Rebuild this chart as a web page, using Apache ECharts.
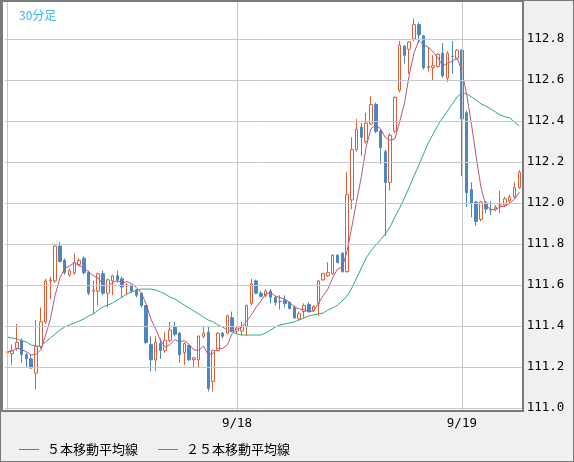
<!DOCTYPE html>
<html><head><meta charset="utf-8">
<script src="https://cdn.jsdelivr.net/npm/echarts@6/dist/echarts.min.js"></script>
<style>html,body{margin:0;padding:0;background:#f0f0f0}#c{width:574px;height:462px}</style>
</head><body><div id="c"></div>
<script>
// [open, close, low, high]
const candles = [
[111.27,111.275,111.20,111.29],[111.265,111.28,111.21,111.31],[111.29,111.32,111.28,111.41],[111.33,111.26,111.22,111.34],
[111.26,111.24,111.20,111.27],[111.24,111.195,111.19,111.26],[111.17,111.30,111.09,111.43],[111.30,111.42,111.29,111.49],
[111.42,111.62,111.41,111.63],[111.62,111.625,111.53,111.64],[111.62,111.79,111.61,111.80],[111.79,111.715,111.71,111.81],
[111.72,111.66,111.65,111.73],[111.65,111.67,111.64,111.68],[111.66,111.71,111.65,111.755],[111.70,111.72,111.69,111.73],
[111.73,111.66,111.65,111.74],[111.66,111.56,111.55,111.67],[111.57,111.575,111.46,111.62],[111.57,111.655,111.50,111.66],
[111.655,111.56,111.55,111.67],[111.56,111.625,111.49,111.63],[111.62,111.645,111.55,111.65],[111.645,111.625,111.61,111.67],
[111.63,111.59,111.54,111.64],[111.595,111.60,111.55,111.61],[111.60,111.57,111.56,111.60],[111.575,111.55,111.54,111.58],
[111.56,111.50,111.49,111.56],[111.50,111.32,111.31,111.50],[111.31,111.235,111.18,111.35],[111.235,111.32,111.18,111.35],
[111.315,111.28,111.24,111.34],[111.28,111.33,111.27,111.37],[111.33,111.38,111.32,111.42],[111.395,111.36,111.35,111.42],
[111.365,111.26,111.22,111.37],[111.27,111.315,111.21,111.32],[111.305,111.235,111.23,111.31],[111.235,111.245,111.20,111.25],
[111.235,111.35,111.20,111.355],[111.35,111.365,111.34,111.40],[111.37,111.095,111.08,111.40],[111.13,111.28,111.08,111.285],
[111.28,111.365,111.275,111.37],[111.365,111.35,111.34,111.37],[111.365,111.45,111.36,111.455],[111.44,111.375,111.37,111.47],
[111.375,111.39,111.36,111.40],[111.375,111.40,111.355,111.42],[111.40,111.50,111.35,111.505],[111.51,111.605,111.50,111.63],
[111.62,111.56,111.555,111.625],[111.56,111.545,111.54,111.57],[111.55,111.57,111.54,111.58],[111.57,111.54,111.51,111.58],
[111.54,111.515,111.50,111.545],[111.52,111.52,111.48,111.55],[111.525,111.51,111.49,111.55],[111.515,111.485,111.48,111.52],
[111.49,111.44,111.435,111.50],[111.435,111.46,111.43,111.47],[111.47,111.50,111.44,111.51],[111.505,111.47,111.465,111.515],
[111.475,111.495,111.47,111.50],[111.51,111.62,111.45,111.625],[111.625,111.655,111.62,111.66],[111.645,111.66,111.64,111.71],
[111.655,111.745,111.65,111.75],[111.745,111.71,111.705,111.75],[111.755,111.665,111.66,111.76],[111.665,112.04,111.66,112.15],
[112.015,112.26,111.97,112.32],[112.26,112.36,112.25,112.41],[112.37,112.32,112.23,112.39],[112.30,112.39,112.29,112.44],
[112.385,112.48,112.38,112.52],[112.48,112.35,112.34,112.49],[112.35,112.27,112.19,112.36],[112.25,112.10,111.84,112.26],
[112.10,112.33,112.06,112.34],[112.35,112.515,112.34,112.52],[112.55,112.77,112.54,112.79],[112.765,112.72,112.68,112.77],
[112.75,112.785,112.63,112.79],[112.80,112.87,112.79,112.90],[112.87,112.82,112.78,112.88],[112.815,112.66,112.65,112.82],
[112.66,112.665,112.64,112.76],[112.66,112.67,112.60,112.72],[112.665,112.725,112.66,112.73],[112.73,112.62,112.61,112.78],
[112.61,112.73,112.59,112.74],[112.715,112.715,112.63,112.79],[112.705,112.745,112.70,112.75],[112.745,112.41,112.13,112.75],
[112.44,112.05,111.98,112.45],[112.065,112.00,111.93,112.10],[112.005,111.91,111.89,112.01],[111.92,112.005,111.91,112.01],
[112.00,111.97,111.95,112.01],[111.965,111.965,111.94,112.01],[111.97,111.98,111.96,111.99],[111.99,111.99,111.95,112.06],
[111.99,112.02,111.98,112.03],[112.01,112.03,112.0,112.04],[112.03,112.075,112.02,112.10],[112.075,112.15,112.07,112.16]
];
const ma25 = [
111.346,111.341,111.337,111.327,111.322,111.307,111.302,111.302,
111.322,111.341,111.361,111.380,111.395,111.405,111.415,111.424,
111.434,111.449,111.459,111.478,111.493,111.502,111.512,111.527,
111.541,111.556,111.566,111.576,111.580,111.580,111.580,111.576,
111.566,111.556,111.541,111.532,111.517,111.502,111.488,111.473,
111.459,111.444,111.429,111.420,111.405,111.395,111.380,111.371,
111.361,111.356,111.356,111.356,111.356,111.356,111.366,111.380,
111.395,111.405,111.410,111.415,111.420,111.429,111.439,111.449,
111.454,111.459,111.463,111.478,111.488,111.502,111.522,111.546,
111.585,111.634,111.683,111.732,111.766,111.795,111.820,111.849,
111.883,111.932,111.976,112.024,112.078,112.132,112.185,112.239,
112.293,112.337,112.380,112.415,112.449,112.483,112.517,112.537,
112.532,112.517,112.502,112.483,112.473,112.459,112.444,112.429,
112.420,112.415,112.395,112.376];
const yTicks = [111.0,111.2,111.4,111.6,111.8,112.0,112.2,112.4,112.6,112.8];
const dateLabels = {48:'9/18', 95:'9/19'};
const legendNames = ['５本移動平均線','２５本移動平均線'];

const cats = candles.map((_, i) => i);
const closes = candles.map(c => c[1]);
const ma5 = closes.map((_, i) => {
  const s = closes.slice(Math.max(0, i - 4), i + 1);
  return +(s.reduce((a, b) => a + b, 0) / s.length).toFixed(3);
});

const chart = echarts.init(document.getElementById('c'));
const FONT = 'DejaVu Sans Mono';
chart.setOption({
  backgroundColor: '#f0f0f0',
  animation: false,
  title: { text: '30分足', left: 14, top: 4, textStyle: { color: '#3ab4f2', fontSize: 12, fontWeight: 'normal', fontFamily: 'Noto Sans CJK JP' } },
  legend: {
    left: 14, top: 438, itemWidth: 20, itemHeight: 1, itemGap: 20, icon: 'rect',
    textStyle: { fontSize: 13, color: '#000', fontFamily: 'Noto Sans CJK JP', padding: [0, 0, 0, 3] },
    data: legendNames
  },
  grid: { left: 4.9, right: 52.3, top: 1, bottom: 51 },
  xAxis: {
    type: 'category', data: cats, boundaryGap: true,
    axisLine: { show: false }, axisTick: { show: false }, splitLine: { show: false },
    axisLabel: { interval: 0, margin: 6, fontFamily: FONT, fontSize: 12.5, color: '#000',
      formatter: v => dateLabels[v] || '' }
  },
  yAxis: {
    type: 'value', min: 110.9854, max: 112.985, position: 'right',
    axisLine: { show: false }, axisTick: { show: false }, axisLabel: { show: false }, splitLine: { show: false }
  },
  graphic: [
    { type: 'rect', shape: { x: 2, y: 1, width: 521, height: 410 }, style: { fill: '#ffffff' }, z: -10, silent: true },
    { type: 'rect', shape: { x: 2, y: 1, width: 521, height: 410 }, style: { fill: 'none', stroke: '#7a7a7a', lineWidth: 2 }, z: 100 },
    { type: 'rect', shape: { x: 0, y: 0, width: 574, height: 462 }, style: { fill: 'none', stroke: '#7a7a7a', lineWidth: 2 }, z: 100 }
  ],
  series: [
    {
      type: 'candlestick', data: candles, barWidth: 3, z: 3,
      itemStyle: { color: '#ffffff', color0: '#4b87c0', borderColor: '#d9603b', borderColor0: '#4b87c0', borderWidth: 1 },
      markLine: {
        silent: true, symbol: 'none', animation: false,
        lineStyle: { color: '#c8c8c8', type: 'solid', width: 1 },
        label: { show: false },
        data: [
          ...yTicks.map(v => ({ yAxis: v, label: { show: true, position: 'end', distance: 5, formatter: v.toFixed(1), color: '#000', fontFamily: FONT, fontSize: 12.5 } })),
          { xAxis: 0 }, { xAxis: 48 }, { xAxis: 95 }
        ]
      }
    },
    { name: legendNames[0], type: 'line', data: ma5, showSymbol: false, symbol: 'none', lineStyle: { color: '#b5577f', width: 1 }, itemStyle: { color: '#b5577f' }, z: 4 },
    { name: legendNames[1], type: 'line', data: ma25, showSymbol: false, symbol: 'none', lineStyle: { color: '#2aaf6e', width: 1 }, itemStyle: { color: '#2aaf6e' }, z: 2 }
  ]
});
</script></body></html>
